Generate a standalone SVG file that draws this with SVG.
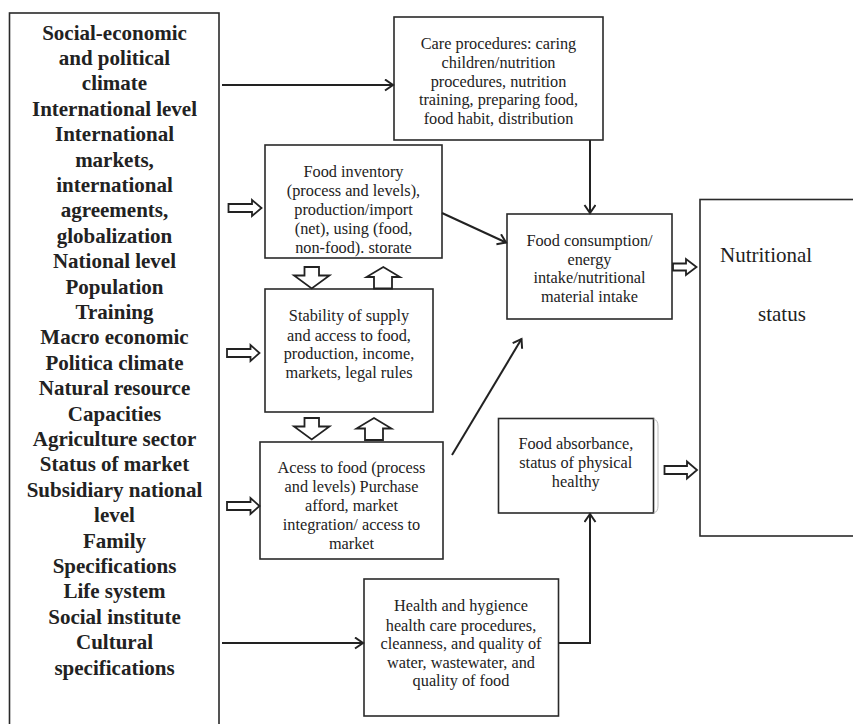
<svg xmlns="http://www.w3.org/2000/svg" width="853" height="724" viewBox="0 0 853 724">
<style>
.box{fill:#fff;stroke:#2a2a2a;stroke-width:1.6}
text{font-family:'Liberation Serif',Tinos,'Times New Roman','DejaVu Serif',serif;fill:#222}
.t{font-size:16.3px;text-anchor:middle}
.b{font-size:21px;font-weight:bold;text-anchor:middle}
.big{font-size:21px}
.line{fill:none;stroke:#222;stroke-width:2}
.hollow{fill:#fff;stroke:#222;stroke-width:1.8;stroke-linejoin:miter}
</style>
<defs>
<marker id="ah" markerUnits="userSpaceOnUse" markerWidth="14" markerHeight="14" refX="9" refY="6" orient="auto">
<path d="M1,0.5 L9,6 L1,11.5" fill="none" stroke="#222" stroke-width="2"/>
</marker>
</defs>
<rect width="853" height="724" fill="#fff"/>

<g id="n-factors">
<rect class="box" x="9.5" y="13" width="209.5" height="720"/>
<text class="b" x="114.5" y="39.5">Social-economic</text>
<text class="b" x="114.5" y="64.9">and political</text>
<text class="b" x="114.5" y="90.3">climate</text>
<text class="b" x="114.5" y="115.7">International level</text>
<text class="b" x="114.5" y="141.1">International</text>
<text class="b" x="114.5" y="166.5">markets,</text>
<text class="b" x="114.5" y="191.9">international</text>
<text class="b" x="114.5" y="217.3">agreements,</text>
<text class="b" x="114.5" y="242.7">globalization</text>
<text class="b" x="114.5" y="268.1">National level</text>
<text class="b" x="114.5" y="293.5">Population</text>
<text class="b" x="114.5" y="318.9">Training</text>
<text class="b" x="114.5" y="344.3">Macro economic</text>
<text class="b" x="114.5" y="369.7">Politica climate</text>
<text class="b" x="114.5" y="395.1">Natural resource</text>
<text class="b" x="114.5" y="420.5">Capacities</text>
<text class="b" x="114.5" y="445.9">Agriculture sector</text>
<text class="b" x="114.5" y="471.3">Status of market</text>
<text class="b" x="114.5" y="496.7">Subsidiary national</text>
<text class="b" x="114.5" y="522.1">level</text>
<text class="b" x="114.5" y="547.5">Family</text>
<text class="b" x="114.5" y="572.9">Specifications</text>
<text class="b" x="114.5" y="598.3">Life system</text>
<text class="b" x="114.5" y="623.7">Social institute</text>
<text class="b" x="114.5" y="649.1">Cultural</text>
<text class="b" x="114.5" y="674.5">specifications</text>
</g>

<g id="n-care">
<rect class="box" x="394" y="17" width="209" height="123"/>
<text class="t" x="498.5" y="48.5">Care procedures: caring</text>
<text class="t" x="498.5" y="68">children/nutrition</text>
<text class="t" x="498.5" y="86.5">procedures, nutrition</text>
<text class="t" x="498.5" y="105">training, preparing food,</text>
<text class="t" x="498.5" y="123.5">food habit, distribution</text>
</g>

<g id="n-inventory">
<rect class="box" x="265" y="145" width="177" height="113"/>
<text class="t" x="353.5" y="176.5">Food inventory</text>
<text class="t" x="353.5" y="196">(process and levels),</text>
<text class="t" x="353.5" y="215">production/import</text>
<text class="t" x="353.5" y="234">(net), using (food,</text>
<text class="t" x="353.5" y="252.5">non-food). storate</text>
</g>

<g id="n-stability">
<rect class="box" x="265" y="289" width="168" height="123"/>
<text class="t" x="349" y="321">Stability of supply</text>
<text class="t" x="349" y="340.5">and access to food,</text>
<text class="t" x="349" y="359">production, income,</text>
<text class="t" x="349" y="377.5">markets, legal rules</text>
</g>

<g id="n-access">
<rect class="box" x="260" y="442" width="183" height="117"/>
<text class="t" x="351.5" y="473">Acess to food (process</text>
<text class="t" x="351.5" y="492">and levels) Purchase</text>
<text class="t" x="351.5" y="511">afford, market</text>
<text class="t" x="351.5" y="530">integration/ access to</text>
<text class="t" x="351.5" y="548.5">market</text>
</g>

<g id="n-consumption">
<rect class="box" x="507" y="214" width="165" height="105"/>
<text class="t" x="589.5" y="246">Food consumption/</text>
<text class="t" x="589.5" y="265">energy</text>
<text class="t" x="589.5" y="282.5">intake/nutritional</text>
<text class="t" x="589.5" y="302">material intake</text>
</g>

<g id="n-absorbance">
<rect class="box" x="498.5" y="418.5" width="155" height="94.5"/>
<path d="M653.5,419 Q658,420 658,426 V506 Q658,512 653.5,513" fill="none" stroke="#bbb" stroke-width="1"/>
<text class="t" x="575.8" y="448.5">Food absorbance,</text>
<text class="t" x="575.8" y="468">status of physical</text>
<text class="t" x="575.8" y="486.5">healthy</text>
</g>

<g id="n-health">
<rect class="box" x="364" y="579" width="194.5" height="137"/>
<text class="t" x="461" y="611">Health and hygience</text>
<text class="t" x="461" y="630.5">health care procedures,</text>
<text class="t" x="461" y="649">cleanness, and quality of</text>
<text class="t" x="461" y="667.5">water, wastewater, and</text>
<text class="t" x="461" y="686">quality of food</text>
</g>

<g id="n-status">
<rect class="box" x="700" y="199.5" width="160" height="336.5"/>
<text class="big" x="720" y="262">Nutritional</text>
<text class="big" x="758" y="321">status</text>
</g>

<g id="connectors">
<path class="line" d="M222,85 H393" marker-end="url(#ah)"/>
<path class="line" d="M442,213 L506,242.5" marker-end="url(#ah)"/>
<path class="line" d="M590,140 V213" marker-end="url(#ah)"/>
<path class="line" d="M452,455 L521.5,339" marker-end="url(#ah)"/>
<path class="line" d="M222,643 H363" marker-end="url(#ah)"/>
<path class="line" d="M558.5,643 H590 V514" marker-end="url(#ah)"/>

<path class="hollow" d="M228.5,204 H252 V200 L261.5,208 L252,216 V212 H228.5 Z"/>
<path class="hollow" d="M227,349 H250.5 V345 L259.5,353 L250.5,361 V357 H227 Z"/>
<path class="hollow" d="M227,502 H250.5 V498 L259.5,506 L250.5,514 V510 H227 Z"/>
<path class="hollow" d="M673,263.5 H686 V259 L696.5,267 L686,275 V270.5 H673 Z"/>
<path class="hollow" d="M664.5,466 H687 V461.5 L697,470 L687,478.5 V474 H664.5 Z"/>

<path class="hollow" d="M304.5,267 H319 V275.5 H329.5 L311.7,288.5 L294,275.5 H304.5 Z"/>
<path class="hollow" d="M374,288.5 H392 V277 H400 L383.3,267 L366.5,277 H374 Z"/>
<path class="hollow" d="M304.5,418 H319 V426.5 H329.5 L311.7,439.5 L294,426.5 H304.5 Z"/>
<path class="hollow" d="M365,440 H383 V428.5 H391.5 L374,418 L356.5,428.5 H365 Z"/>
</g>
</svg>
